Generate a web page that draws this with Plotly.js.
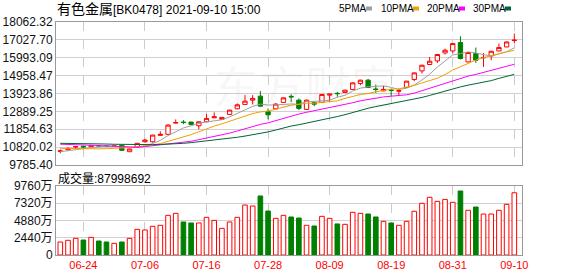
<!DOCTYPE html>
<html><head><meta charset="utf-8">
<script src="https://cdn.plot.ly/plotly-3.0.1.min.js"></script>
<style>html,body{margin:0;padding:0;background:#fff;}#chart{width:578px;height:276px;}</style>
</head><body><div id="chart"></div>
<script>
const dates = ['06-21','06-22','06-23','06-24','06-25','06-28','06-29','06-30','07-01','07-02','07-05','07-06','07-07','07-08','07-09','07-12','07-13','07-14','07-15','07-16','07-19','07-20','07-21','07-22','07-23','07-26','07-27','07-28','07-29','07-30','08-02','08-03','08-04','08-05','08-06','08-09','08-10','08-11','08-12','08-13','08-16','08-17','08-18','08-19','08-20','08-23','08-24','08-25','08-26','08-27','08-30','08-31','09-01','09-02','09-03','09-06','09-07','09-08','09-09','09-10'];
const openP  = [10575,10669,10830,10870,10842,10910,10890,10860,10923,10554,10808,11131,11131,11500,11559,12215,12270,12269,12055,12286,12518,12425,12714,13037,13291,13540,13771,12864,13037,13407,13760,13540,13003,13384,13407,13829,13935,13985,14158,14504,14695,14180,14077,14125,14060,14273,14736,15232,15602,15810,16272,16387,16873,15752,16237,15990,16099,16387,16619,16990];
const highP  = [10690,10808,10880,10900,10930,10950,10920,10930,10940,10730,11060,11305,11530,11732,12150,12425,12385,12290,12300,12731,12829,12560,12980,13350,13829,13829,14060,13060,13370,13700,13886,13638,13560,13442,13890,13900,14019,14140,14560,14720,14770,14446,14366,14215,14180,14660,15140,15580,16041,16200,16520,16840,17236,16310,16584,16272,16390,16815,16930,17393];
const lowP   = [10460,10610,10750,10760,10820,10860,10820,10840,10620,10540,10790,11075,11075,11480,11540,12190,12150,12110,11847,12270,12500,12400,12690,13020,13270,13291,13170,12425,13020,13390,13420,12962,12990,13193,13390,13442,13730,13970,14140,14400,14250,13961,14060,13788,13829,14250,14637,15082,15580,15694,16180,16237,15891,15730,15694,15463,15850,16370,16600,16849];
const closeP = [10600,10750,10850,10835,10900,10885,10860,10890,10634,10710,11039,11230,11518,11559,12096,12240,12245,12136,12286,12483,12575,12541,12962,13268,13482,13638,13193,12691,13309,13673,13730,13060,13540,13309,13869,13886,13915,14117,14539,14695,14273,14158,14158,14105,14085,14637,15117,15561,15793,16180,16428,16815,15948,16295,15850,16010,16370,16584,16907,17010];
const ma5  = [10554,10600,10660,10730,10787,10844,10866,10874,10834,10796,10827,10901,11026,11211,11488,11729,11932,12055,12201,12278,12345,12404,12569,12766,12966,13178,13309,13254,13263,13301,13319,13293,13462,13462,13502,13533,13706,13822,14068,14233,14310,14356,14365,14280,14158,14231,14423,14703,15039,15458,15816,16155,16233,16333,16267,16178,16089,16216,16338,16570];
const ma10 = [10750,10740,10725,10710,10710,10720,10730,10745,10760,10791,10835,10883,10950,11023,11142,11278,11416,11541,11706,11883,12037,12168,12312,12483,12622,12762,12856,12912,13014,13133,13249,13301,13358,13363,13401,13426,13499,13642,13765,13867,13922,14031,14093,14174,14196,14271,14390,14534,14659,14808,15023,15289,15468,15686,15862,15997,16122,16224,16336,16419];
const ma20 = [10990,10985,10970,10950,10930,10910,10890,10870,10850,10830,10815,10850,10905,10950,10990,11030,11090,11160,11250,11337,11436,11526,11631,11753,11882,12020,12136,12226,12360,12508,12643,12734,12835,12923,13012,13094,13178,13277,13390,13500,13585,13666,13726,13768,13798,13848,13945,14088,14212,14338,14472,14660,14781,14930,15029,15134,15256,15379,15498,15613];
const ma30 = [11040,11040,11035,11030,11020,11010,11000,10985,10975,10965,10960,10960,10965,10975,10990,11010,11040,11080,11130,11180,11225,11265,11320,11390,11460,11530,11610,11700,11810,11936,12040,12117,12207,12289,12388,12488,12591,12698,12828,12961,13069,13167,13255,13340,13406,13486,13582,13696,13813,13936,14065,14207,14307,14407,14486,14564,14670,14800,14920,15031];
const volume = [1840,2080,2360,2120,2500,1980,1840,1650,1840,2360,3630,3540,4060,4200,5610,5890,4670,4530,4530,5330,4900,3770,4670,5330,7070,6930,8350,6220,5190,5610,5380,5230,4200,4100,5470,5190,4390,4340,6040,5890,5800,5380,4760,4530,4200,4760,6180,7310,8160,7590,7870,7450,9050,6320,6790,5800,5800,6320,7170,8800];
const xTickLabels = ['06-24','07-06','07-16','07-28','08-09','08-19','08-31','09-10'];
const priceTickLabels = ['9785.40','10820.02','11854.63','12889.25','13923.86','14958.47','15993.09','17027.70','18062.32'];
const volTickLabels = ['0','2440万','4880万','7320万','9760万'];
const maNames = ['5PMA','10PMA','20PMA','30PMA'];
const titleName = '有色金属';
const titleRest = '[BK0478] 2021-09-10 15:00';
const volTitle = '成交量:87998692';

const W=578,H=276,ML=56,MR=56,MT=22,MB=21;
const PW=W-ML-MR, PH=H-MT-MB;
const px = x => (x-ML)/PW;
const py = y => (H-MB-y)/PH;
const FONT = 'Liberation Sans, Noto Sans CJK SC, sans-serif';
const RED='#ff0000', GREEN='#008000';
const maColors = ['#a0a0a0','#f0a000','#ff00ff','#006633'];

const traces = [];
traces.push({type:'candlestick', x:dates, open:openP, high:highP, low:lowP, close:closeP,
  xaxis:'x', yaxis:'y', whiskerwidth:0, hoverinfo:'skip', showlegend:false,
  increasing:{line:{color:RED,width:1}, fillcolor:'#ffffff'},
  decreasing:{line:{color:GREEN,width:1}, fillcolor:GREEN}});
[ma5,ma10,ma20,ma30].forEach((m,k)=>traces.push({type:'scatter',mode:'lines',x:dates,y:m,xaxis:'x',yaxis:'y',
  line:{color:maColors[k],width:1},hoverinfo:'skip',showlegend:false}));
const up = closeP.map((c,i)=>c>=openP[i]);
traces.push({type:'bar', x:dates, y:volume, xaxis:'x2', yaxis:'y2', width:0.6, hoverinfo:'skip', showlegend:false,
  marker:{color:up.map(u=>u?'#ffffff':GREEN), line:{color:up.map(u=>u?RED:GREEN), width:1}}});

const annotations = [];
const shapes = [];
annotations.push({xref:'paper',yref:'paper',x:px(55),y:py(9),xanchor:'left',yanchor:'middle',showarrow:false,
  text:'<span style="font-size:14px">'+titleName+'</span>'+titleRest, font:{family:FONT,size:12,color:'#000'}});
annotations.push({xref:'paper',yref:'paper',x:px(56),y:py(178),xanchor:'left',yanchor:'middle',showarrow:false,
  text:volTitle, font:{family:FONT,size:12,color:'#000'}});
annotations.push({xref:'paper',yref:'paper',x:px(305),y:py(88),xanchor:'center',yanchor:'middle',showarrow:false,
  text:'东方财富', font:{family:FONT,size:46,color:'rgba(0,0,0,0.05)'}});
const legX=[337,379,425,471], swX=[366,413,459,505];
maNames.forEach((n,k)=>{
  annotations.push({xref:'paper',yref:'paper',x:px(legX[k]),y:py(9),xanchor:'left',yanchor:'middle',showarrow:false,
    text:n, font:{family:FONT,size:10,color:'#000'}});
  shapes.push({type:'rect',xref:'paper',yref:'paper',x0:px(swX[k]),x1:px(swX[k]+6),y0:py(10.5),y1:py(6.5),
    fillcolor:maColors[k],line:{width:0}});
});

const xcommon = {type:'category', range:[-0.56,60], tickvals:xTickLabels, showgrid:true, gridcolor:'#cccccc',
  griddash:'dash', gridwidth:1, showline:true, mirror:true, linecolor:'#999999', linewidth:1, zeroline:false,
  ticks:'', fixedrange:true};
const layout = {
  width:W, height:H, margin:{l:ML,r:MR,t:MT,b:MB,pad:0}, paper_bgcolor:'#fff', plot_bgcolor:'#fff',
  showlegend:false, hovermode:false, boxgap:0.2,
  xaxis: Object.assign({}, xcommon, {anchor:'y', showticklabels:false, rangeslider:{visible:false}}),
  xaxis2: Object.assign({}, xcommon, {anchor:'y2', matches:'x', ticktext:xTickLabels, showticklabels:true,
     tickfont:{family:FONT,size:11,color:RED}}),
  yaxis: {domain:[py(165),1], range:[9785.40,18062.32], tickvals:priceTickLabels.map(Number), ticktext:priceTickLabels,
     showgrid:true, gridcolor:'#d0d0d0', showline:true, mirror:true, linecolor:'#999999', zeroline:false, ticks:'',
     tickfont:{family:FONT,size:12,color:'#111'}, anchor:'x', fixedrange:true},
  yaxis2: {domain:[0,py(186)], range:[0,9760], tickvals:volTickLabels.map(s=>parseFloat(s)), ticktext:volTickLabels,
     showgrid:true, gridcolor:'#d0d0d0', showline:true, mirror:true, linecolor:'#999999', zeroline:false, ticks:'',
     tickfont:{family:FONT,size:12,color:'#111'}, anchor:'x2', fixedrange:true},
  annotations, shapes
};
Plotly.newPlot('chart', traces, layout, {staticPlot:true, displayModeBar:false});
</script></body></html>
